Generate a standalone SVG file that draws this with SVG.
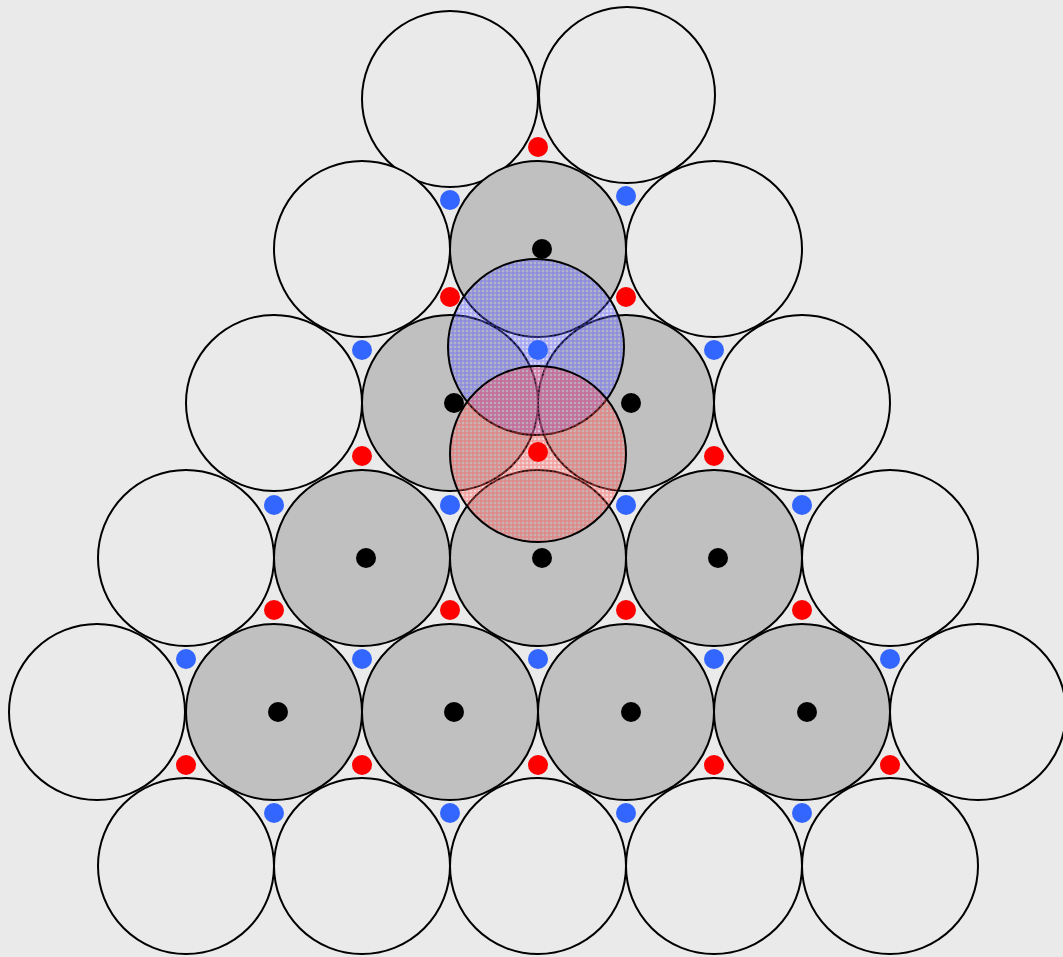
<svg xmlns="http://www.w3.org/2000/svg" width="1063" height="957" viewBox="0 0 1063 957">
<defs>
<pattern id="gridBlue" width="4" height="4" patternUnits="userSpaceOnUse">
<rect width="4" height="4" fill="#7070ff" fill-opacity="0.15"/>
<path d="M0 1H4M1 0V4" stroke="#5050ff" stroke-width="1.5" stroke-opacity="0.4"/>
</pattern>
<pattern id="gridRed" width="4" height="4" patternUnits="userSpaceOnUse">
<rect width="4" height="4" fill="#ff7070" fill-opacity="0.15"/>
<path d="M0 1H4M1 0V4" stroke="#ff4040" stroke-width="1.5" stroke-opacity="0.4"/>
</pattern>
</defs>
<style>
.c{stroke:#000;stroke-width:2}
.w{fill:#eaeaea}
.g{fill:#c0c0c0}
.k{fill:#000}
.r{fill:#ff0000}
.b{fill:#3366ff}
</style>
<rect width="1063" height="957" fill="#eaeaea"/>
<g id="spheres">
<circle id="s1" class="c w" cx="450" cy="99" r="88"/>
<circle id="s2" class="c w" cx="627" cy="95" r="88"/>
<circle id="s3" class="c w" cx="362" cy="249" r="88"/>
<circle id="s4" class="c g" cx="538" cy="249" r="88"/>
<circle id="s5" class="c w" cx="714" cy="249" r="88"/>
<circle id="s6" class="c w" cx="274" cy="403" r="88"/>
<circle id="s7" class="c g" cx="450" cy="403" r="88"/>
<circle id="s8" class="c g" cx="626" cy="403" r="88"/>
<circle id="s9" class="c w" cx="802" cy="403" r="88"/>
<circle id="s10" class="c w" cx="186" cy="558" r="88"/>
<circle id="s11" class="c g" cx="362" cy="558" r="88"/>
<circle id="s12" class="c g" cx="538" cy="558" r="88"/>
<circle id="s13" class="c g" cx="714" cy="558" r="88"/>
<circle id="s14" class="c w" cx="890" cy="558" r="88"/>
<circle id="s15" class="c w" cx="97" cy="712" r="88"/>
<circle id="s16" class="c g" cx="274" cy="712" r="88"/>
<circle id="s17" class="c g" cx="450" cy="712" r="88"/>
<circle id="s18" class="c g" cx="626" cy="712" r="88"/>
<circle id="s19" class="c g" cx="802" cy="712" r="88"/>
<circle id="s20" class="c w" cx="978" cy="712" r="88"/>
<circle id="s21" class="c w" cx="186" cy="866" r="88"/>
<circle id="s22" class="c w" cx="362" cy="866" r="88"/>
<circle id="s23" class="c w" cx="538" cy="866" r="88"/>
<circle id="s24" class="c w" cx="714" cy="866" r="88"/>
<circle id="s25" class="c w" cx="890" cy="866" r="88"/>
</g>
<g id="centers">
<circle class="k" cx="542" cy="249" r="10"/>
<circle class="k" cx="454" cy="403" r="10"/>
<circle class="k" cx="631" cy="403" r="10"/>
<circle class="k" cx="366" cy="558" r="10"/>
<circle class="k" cx="542" cy="558" r="10"/>
<circle class="k" cx="718" cy="558" r="10"/>
<circle class="k" cx="278" cy="712" r="10"/>
<circle class="k" cx="454" cy="712" r="10"/>
<circle class="k" cx="631" cy="712" r="10"/>
<circle class="k" cx="807" cy="712" r="10"/>
</g>
<g id="red-sites">
<circle class="r" cx="538" cy="147" r="10"/>
<circle class="r" cx="450" cy="297" r="10"/>
<circle class="r" cx="626" cy="297" r="10"/>
<circle class="r" cx="362" cy="456" r="10"/>
<circle class="r" cx="714" cy="456" r="10"/>
<circle class="r" cx="274" cy="610" r="10"/>
<circle class="r" cx="450" cy="610" r="10"/>
<circle class="r" cx="626" cy="610" r="10"/>
<circle class="r" cx="802" cy="610" r="10"/>
<circle class="r" cx="186" cy="765" r="10"/>
<circle class="r" cx="362" cy="765" r="10"/>
<circle class="r" cx="538" cy="765" r="10"/>
<circle class="r" cx="714" cy="765" r="10"/>
<circle class="r" cx="890" cy="765" r="10"/>
</g>
<g id="blue-sites">
<circle class="b" cx="450" cy="200" r="10"/>
<circle class="b" cx="626" cy="196" r="10"/>
<circle class="b" cx="362" cy="350" r="10"/>
<circle class="b" cx="714" cy="350" r="10"/>
<circle class="b" cx="274" cy="505" r="10"/>
<circle class="b" cx="450" cy="505" r="10"/>
<circle class="b" cx="626" cy="505" r="10"/>
<circle class="b" cx="802" cy="505" r="10"/>
<circle class="b" cx="186" cy="659" r="10"/>
<circle class="b" cx="362" cy="659" r="10"/>
<circle class="b" cx="538" cy="659" r="10"/>
<circle class="b" cx="714" cy="659" r="10"/>
<circle class="b" cx="890" cy="659" r="10"/>
<circle class="b" cx="274" cy="813" r="10"/>
<circle class="b" cx="450" cy="813" r="10"/>
<circle class="b" cx="626" cy="813" r="10"/>
<circle class="b" cx="802" cy="813" r="10"/>
</g>
<g id="overlays">
<circle id="blue-sphere" class="c" fill="url(#gridBlue)" cx="536" cy="347" r="88"/>
<circle id="red-sphere" class="c" fill="url(#gridRed)" cx="538" cy="454" r="88"/>
</g>
<g id="inner-sites">
<circle class="b" cx="538" cy="350" r="10"/>
<circle class="r" cx="538" cy="452" r="10"/>
</g>
</svg>
